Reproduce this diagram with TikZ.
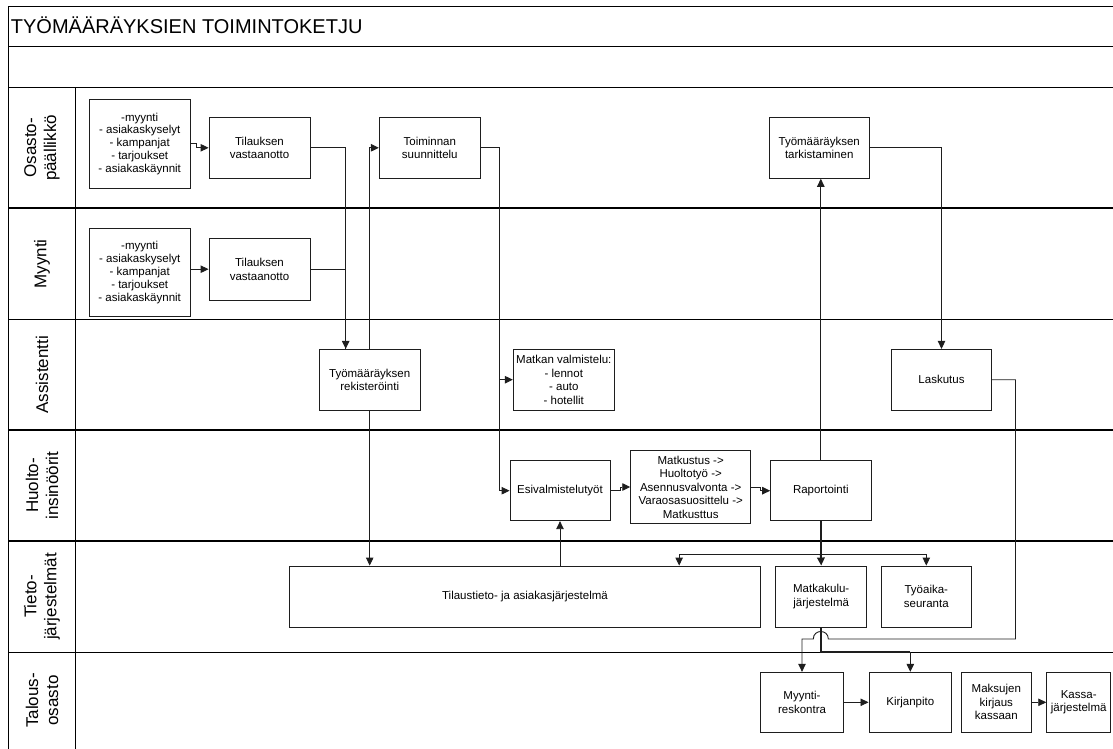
\documentclass[tikz,border=0pt]{standalone}
\usepackage{fontspec}
\setmainfont{Liberation Sans}
\usetikzlibrary{arrows.meta}
\definecolor{ink}{HTML}{1E1E1E}
\tikzset{
  lane/.style={draw=black, line width=1.2pt},
  box/.style={draw=ink, line width=0.9pt, fill=white, inner sep=0pt, align=center,
    font=\fontsize{11.5}{13.5}\selectfont},
  listbox/.style={box, font=\fontsize{11.5}{12.8}\selectfont},
  lanelabel/.style={rotate=90, align=center, inner sep=0pt,
    font=\fontsize{17}{20}\selectfont},
  flow/.style={draw=ink, line width=0.9pt, -{Triangle[length=8pt,width=7.5pt]}},
  plain/.style={draw=ink, line width=0.9pt},
  heavy/.style={draw=ink, line width=1.8pt},
}
\begin{document}
\begin{tikzpicture}[x=1pt,y=-1pt]
\useasboundingbox (0,0) rectangle (1113,749);

% swimlane frame
\draw[lane] (1113,6.7) -- (8.3,6.7) -- (8.3,749);
\foreach \yy in {46.7,87.7,208,319.5,430,541,652.3}
  \draw[lane] (8.3,\yy) -- (1113,\yy);
\draw[lane] (75.7,87.7) -- (75.7,749);

\node[anchor=base west, inner sep=0pt, font=\fontsize{20}{24}\selectfont] (title) at (10.7,33.3) {TYÖMÄÄRÄYKSIEN TOIMINTOKETJU};

% lane labels
\node[lanelabel] (lab1) at (42,147.9) {Osasto-\\päällikkö};
\node[lanelabel] (lab2) at (42,263.8) {Myynti};
\node[lanelabel] (lab3) at (42,374.8) {Assistentti};
\node[lanelabel] (lab4) at (42,485.5) {Huolto-\\insinöörit};
\node[lanelabel] (lab5) at (42,596.5) {Tieto-\\järjestelmät};
\node[lanelabel] (lab6) at (42,700.5) {Talous-\\osasto};

% process boxes
\node[listbox, minimum width=100.7pt, minimum height=89pt] (l1) at (139.7,143.8)
  {-myynti\\- asiakaskyselyt\\- kampanjat\\- tarjoukset\\- asiakaskäynnit};
\node[box, minimum width=101pt, minimum height=61pt] (t1) at (259.5,147.8) {Tilauksen\\vastaanotto};
\node[listbox, minimum width=100.7pt, minimum height=88.4pt] (l2) at (139.7,272.5)
  {-myynti\\- asiakaskyselyt\\- kampanjat\\- tarjoukset\\- asiakaskäynnit};
\node[box, minimum width=101pt, minimum height=61.7pt] (t2) at (259.5,269.2) {Tilauksen\\vastaanotto};
\node[box, minimum width=101pt, minimum height=61pt] (toim) at (429.8,147.8) {Toiminnan\\suunnittelu};
\node[box, minimum width=100.3pt, minimum height=61pt] (tark) at (819.2,147.8) {Työmääräyksen\\tarkistaminen};
\node[box, minimum width=100.7pt, minimum height=60.7pt] (rek) at (369.7,379.7) {Työmääräyksen\\rekisteröinti};
\node[box, minimum width=101pt, minimum height=60.7pt] (matkan) at (563.8,379.7) {Matkan valmistelu:\\- lennot\\- auto\\- hotellit};
\node[box, minimum width=100.4pt, minimum height=60.7pt] (lask) at (941.5,379.7) {Laskutus};
\node[box, minimum width=100pt, minimum height=60pt] (esival) at (560,490.7) {Esivalmistelutyöt};
\node[box, minimum width=120pt, minimum height=72.6pt] (matk) at (690.7,487)
  {Matkustus ->\\Huoltotyö ->\\Asennusvalvonta ->\\Varaosasuosittelu ->\\Matkusttus};
\node[box, minimum width=100.3pt, minimum height=60pt] (rap) at (820.8,490.7) {Raportointi};
\node[box, minimum width=471.4pt, minimum height=61pt] (tilaus) at (525,596.5) {Tilaustieto- ja asiakasjärjestelmä};
\node[box, minimum width=91pt, minimum height=61pt] (mk) at (821.2,596.5) {Matkakulu-\\järjestelmä};
\node[box, minimum width=90.7pt, minimum height=61pt] (tyo) at (926.3,596.5) {Työaika-\\seuranta};
\node[box, minimum width=82.6pt, minimum height=60pt] (myy) at (802,702.3) {Myynti-\\reskontra};
\node[box, minimum width=82.7pt, minimum height=60pt] (kirj) at (910.3,702.3) {Kirjanpito};
\node[box, minimum width=70.7pt, minimum height=60pt] (maks) at (996.3,702.3) {Maksujen\\kirjaus\\kassaan};
\node[box, minimum width=64pt, minimum height=60pt] (kassa) at (1078.7,702.3) {Kassa-\\järjestelmä};

% bend points
\coordinate (bus) at (820.8,554);
\coordinate (lr) at (1015.5,639);
\coordinate (hopR) at (828.3,639);
\coordinate (hopL) at (813.3,639);

% order intake
\draw[flow] (l1.east) -- ++(6,0) |- (t1.west);
\draw[flow] (l2.east |- t2.west) -- (t2.west);
\draw[flow] (t1.east) -| ([xshift=-24pt]rek.north);
\draw[plain] (t2.east) -| ([xshift=-24pt]rek.north);
\draw[flow] (rek.north) |- (toim.west);
\draw[flow] (rek.south) -- (rek.south |- tilaus.north);

% planning and field work
\draw[flow] (toim.east) -- ++(18.5,0) |- (matkan.west);
\draw[flow] (toim.east) -- ++(18.5,0) |- (esival.west);
\draw[flow] (esival.east) -- ++(10,0) |- (matk.west);
\draw[flow] (matk.east) -- ++(9.5,0) |- (rap.west);
\draw[flow] (esival.south |- tilaus.north) -- (esival.south);
\draw[flow] (rap.north) -- (rap.north |- tark.south);
\draw[flow] (tark.east) -| (lask.north);

% reporting to the information systems
\draw[heavy] (rap.south) -- (bus);
\draw[flow] (bus) -| ([xshift=-82pt]tilaus.north east);
\draw[flow] (bus) -| (tyo.north);
\draw[flow, line width=1.8pt] (bus) -- (mk.north);

% finance
\draw[heavy] (mk.south) -- (mk.south |- 0,652.3) -- (kirj.north |- 0,652.3);
\draw[flow] (kirj.north |- 0,652.3) -- (kirj.north);
\draw[flow] (lask.east) -| (lr) -- (hopR) .. controls (828.3,629) and (813.3,629) .. (hopL)
  -- (myy.north |- hopL) -- (myy.north);
\draw[flow] (myy.east) -- (kirj.west);
\draw[flow] (maks.east) -- (kassa.west);
\end{tikzpicture}
\end{document}
